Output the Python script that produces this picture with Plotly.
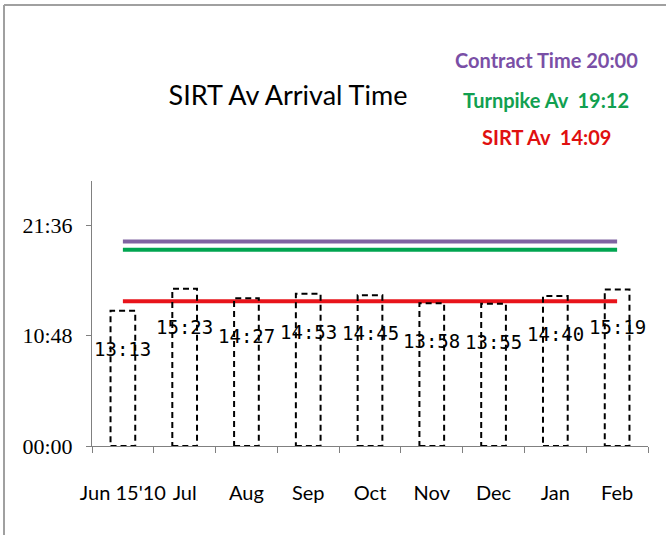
import plotly.graph_objects as go

# ---- data ----
months = ["Jun 15'10", "Jul", "Aug", "Sep", "Oct", "Nov", "Dec", "Jan", "Feb"]
arrival_labels = ["13:13", "15:23", "14:27", "14:53", "14:45", "13:58", "13:55", "14:40", "15:19"]
contract_label = "20:00"
turnpike_label = "19:12"
sirt_label = "14:09"
y_tick_labels = ["00:00", "10:48", "21:36"]


def to_min(s):
    h, m = s.split(":")
    return int(h) * 60 + int(m)


arrival = [to_min(s) for s in arrival_labels]
contract = [to_min(contract_label)] * len(months)
turnpike = [to_min(turnpike_label)] * len(months)
sirt = [to_min(sirt_label)] * len(months)
y_ticks = [to_min(s) for s in y_tick_labels]

W, H = 666, 535
ML, MR, MT, MB = 92, 18, 181, 89
PW, PH = W - ML - MR, H - MT - MB

SANS = "Lato, Liberation Sans, sans-serif"

fig = go.Figure()

# invisible bars carrying the values
fig.add_trace(go.Bar(x=months, y=arrival, width=0.4,
                     marker=dict(color="rgba(0,0,0,0)", line=dict(width=0)),
                     showlegend=False, hoverinfo="x+y"))

# dashed outlines of the bars
for i, v in enumerate(arrival):
    fig.add_shape(type="rect", xref="x", yref="y", x0=i - 0.2, x1=i + 0.2, y0=0, y1=v,
                  line=dict(color="black", width=2, dash="6px,4px"), fillcolor="rgba(0,0,0,0)",
                  layer="above")

# reference lines
for vals, col in [(contract, "#8064A2"), (turnpike, "#00A550"), (sirt, "#E8141B")]:
    fig.add_trace(go.Scatter(x=months, y=vals, mode="lines",
                             line=dict(color=col, width=4), showlegend=False))

# data labels
for m, v, lab in zip(months, arrival, arrival_labels):
    fig.add_annotation(x=m, y=v, text=lab, showarrow=False, yanchor="middle", yshift=-38,
                       font=dict(family="DejaVu Sans Mono, monospace", size=19, color="black"))

# legend-like text
legend_items = [("Contract Time " + contract_label, "#7A4FA6", 60),
                ("Turnpike Av  " + turnpike_label, "#11A050", 100),
                ("SIRT Av  " + sirt_label, "#E01010", 137)]
for txt, col, py in legend_items:
    fig.add_annotation(xref="paper", yref="paper", x=(546 - ML) / PW, y=(H - MB - py) / PH,
                       text="<b>" + txt + "</b>", showarrow=False, xanchor="center", yanchor="middle",
                       font=dict(family=SANS, size=20, color=col))

# outer frame (top and left only)
fx = (4 - ML) / PW
fy = (H - MB - 5) / PH
fig.add_shape(type="line", xref="paper", yref="paper", x0=fx, x1=(W + 5 - ML) / PW, y0=fy, y1=fy,
              line=dict(color="#A0A0A0", width=2))
fig.add_shape(type="line", xref="paper", yref="paper", x0=fx, x1=fx, y0=fy, y1=-(MB + 5) / PH,
              line=dict(color="#A0A0A0", width=2))

fig.update_layout(
    width=W, height=H,
    margin=dict(l=ML, r=MR, t=MT, b=MB, pad=0, autoexpand=False),
    paper_bgcolor="white", plot_bgcolor="white",
    title=dict(text="SIRT Av Arrival Time", xref="container", yref="container",
               x=288 / W, y=1 - 96 / H, xanchor="center", yanchor="middle",
               font=dict(family=SANS, size=27, color="black")),
    showlegend=False,
    bargap=0.6,
)
fig.update_xaxes(type="category", range=[-0.5, len(months) - 0.5], showline=True,
                 linecolor="#808080", linewidth=1, ticks="outside", tickson="boundaries",
                 ticklen=6, tickcolor="#808080", showgrid=False, zeroline=False,
                 tickangle=0, automargin=False,
                 tickfont=dict(family=SANS, size=20, color="black"), ticklabelstandoff=29)
fig.update_yaxes(range=[0, 1555], tickvals=y_ticks, ticktext=y_tick_labels, showline=True,
                 linecolor="#808080", linewidth=1, ticks="outside", ticklen=5, tickcolor="#808080",
                 showgrid=False, zeroline=False, automargin=False,
                 tickfont=dict(family="Liberation Serif, serif", size=22, color="black"),
                 ticklabelstandoff=9)

fig.write_html("out.html", config={"displayModeBar": False},
               post_script="document.body.style.margin='0';")
